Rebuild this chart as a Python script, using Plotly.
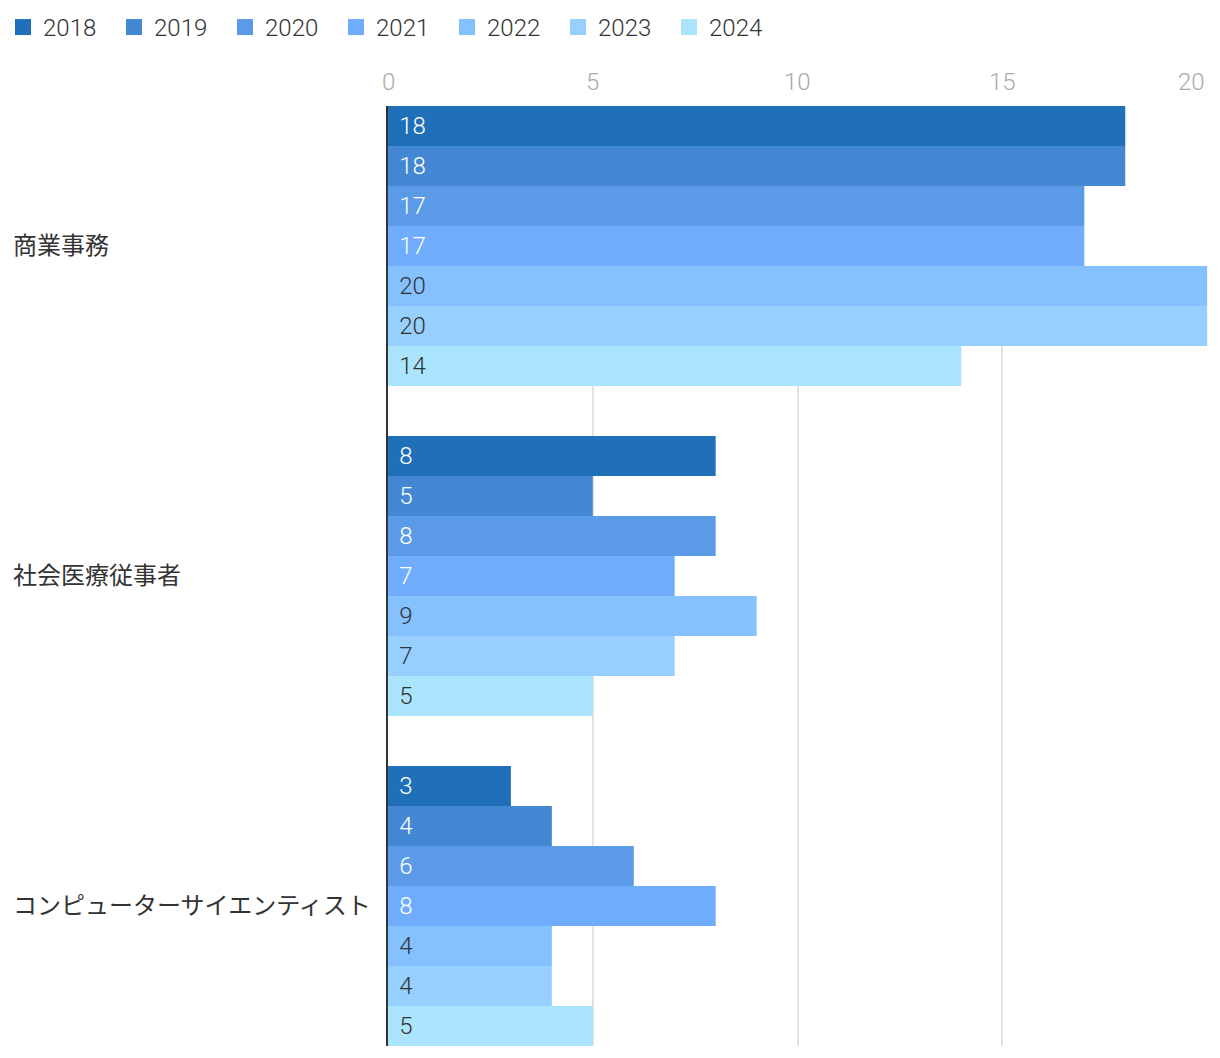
import plotly.graph_objects as go

categories = ["商業事務", "社会医療従事者", "コンピューターサイエンティスト"]
years = ["2018", "2019", "2020", "2021", "2022", "2023", "2024"]
values = {
    "2018": [18, 8, 3],
    "2019": [18, 5, 4],
    "2020": [17, 8, 6],
    "2021": [17, 7, 8],
    "2022": [20, 9, 4],
    "2023": [20, 7, 4],
    "2024": [14, 5, 5],
}
colors = ["#2070b9", "#4488d4", "#5b9ae6", "#70acfc", "#85c0ff", "#97d0ff", "#abe5fd"]
text_colors = ["#ffffff", "#ffffff", "#ffffff", "#ffffff", "#333333", "#333333", "#333333"]
x_ticks = [0, 5, 10, 15, 20]

FONT = "Roboto, 'Noto Sans CJK JP', sans-serif"

fig = go.Figure()
for yr, col, tcol in zip(years, colors, text_colors):
    vals = values[yr]
    fig.add_trace(go.Bar(
        name=yr,
        y=categories,
        x=vals,
        orientation="h",
        marker=dict(color=col, line=dict(width=0)),
        text=[" \u200a" + str(v) for v in vals],
        textposition="inside",
        insidetextanchor="start",
        textangle=0,
        constraintext="none",
        insidetextfont=dict(color=tcol, size=24, family=FONT, weight=300),
        hoverinfo="x+name",
        legendgroup=yr,
        showlegend=False,
    ))

# legend-only entries with larger square swatches
for yr, col in zip(years, colors):
    fig.add_trace(go.Scatter(
        name=yr, x=[None], y=[None], mode="markers",
        marker=dict(symbol="square", size=18, color=col),
        legendgroup=yr, showlegend=True, hoverinfo="skip",
    ))

for c in categories:
    fig.add_annotation(
        x=-377 / 820, xref="paper", y=c, yref="y",
        text=c, showarrow=False, xanchor="left", yanchor="middle",
        font=dict(size=24, color="#333333", family=FONT),
    )

# tick labels drawn as annotations so the last one can be right-aligned
for i, t in enumerate(x_ticks):
    last = i == len(x_ticks) - 1
    fig.add_annotation(
        x=t, xref="x", y=1, yref="paper", yshift=8,
        text=str(t), showarrow=False,
        xanchor="right" if last else "center", yanchor="bottom",
        font=dict(size=24, color="#aaaaaa", family=FONT, weight=300),
    )

fig.update_layout(
    width=1220, height=1058,
    barmode="group",
    bargap=50 / 330,
    bargroupgap=0,
    paper_bgcolor="white",
    plot_bgcolor="white",
    margin=dict(l=380, r=20, t=98, b=20, autoexpand=False),
    font=dict(family=FONT, size=24, color="#333333"),
    showlegend=True,
    legend=dict(
        orientation="h",
        xref="paper", yref="paper",
        x=-0.4695, y=1.1075, xanchor="left", yanchor="top",
        font=dict(size=24, color="#333333", family=FONT, weight=300),
        traceorder="normal",
        entrywidth=66,
        itemclick=False,
        itemsizing="trace",
    ),
    xaxis=dict(
        side="top",
        range=[0, 20.02],
        tickvals=x_ticks,
        showticklabels=False,
        showgrid=True,
        gridcolor="#e3e3e3",
        gridwidth=2,
        zeroline=False,
        showline=False,
        ticks="",
        automargin=False,
        fixedrange=True,
    ),
    yaxis=dict(
        range=[2 + 140 / 330, -140 / 330],
        showticklabels=False,
        showgrid=False,
        zeroline=False,
        showline=True,
        linecolor="#333333",
        linewidth=2,
        ticks="",
        automargin=False,
        fixedrange=True,
    ),
)

fig.write_html("out.html")
